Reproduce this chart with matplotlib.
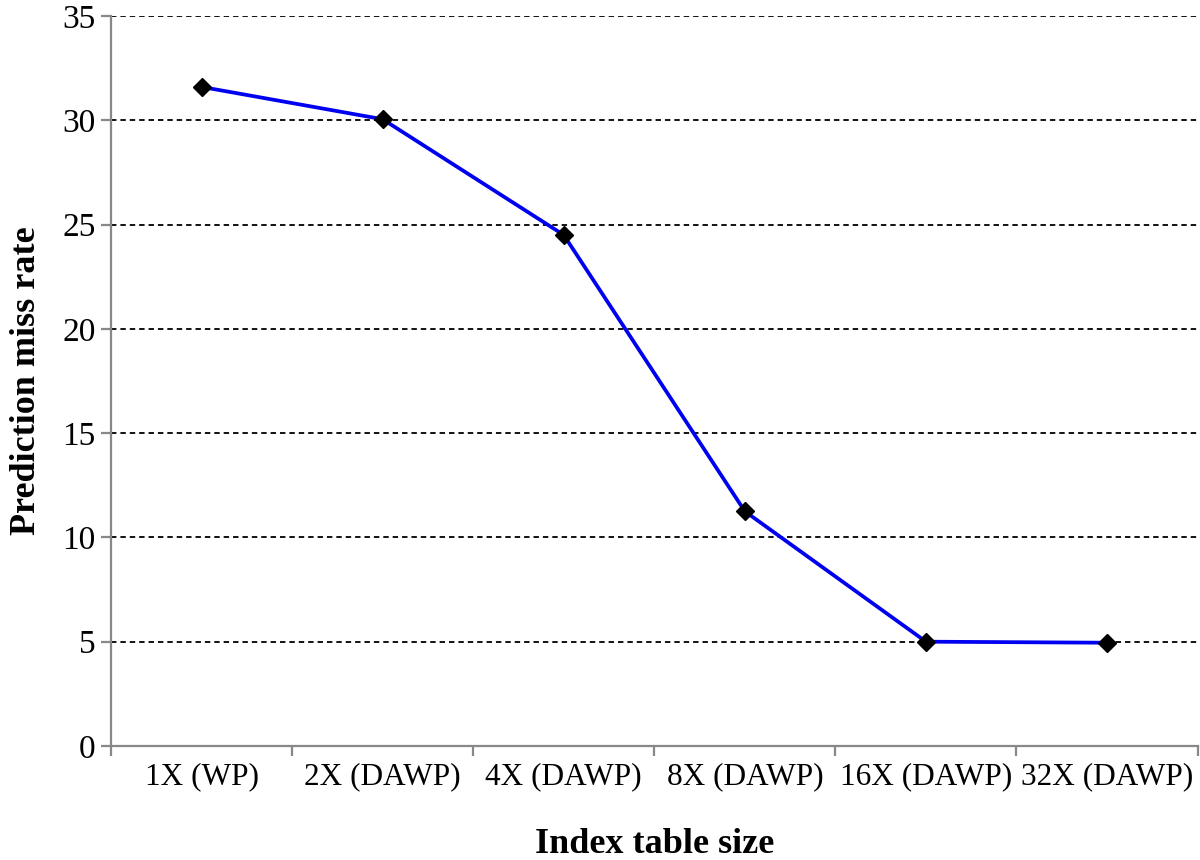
import matplotlib.pyplot as plt
import numpy as np

categories = ['1X (WP)', '2X (DAWP)', '4X (DAWP)', '8X (DAWP)', '16X (DAWP)', '32X (DAWP)']
miss_rate = [31.6, 30.05, 24.5, 11.25, 5.0, 4.95]

plt.rcParams['font.family'] = ['Liberation Serif', 'DejaVu Serif']

fig = plt.figure(figsize=(12, 8.6), dpi=100)
ax = fig.add_axes([0.0925, 0.1326, 0.9055, 0.8488])

x = np.arange(len(categories))
ax.plot(x, miss_rate, color='#0000f0', linewidth=2.7, marker='D', markersize=9,
        markerfacecolor='black', markeredgecolor='black', zorder=3)

ax.set_xlim(-0.5, len(categories) - 0.5)
ax.set_ylim(0, 35)
ax.set_yticks(np.arange(0, 36, 5))
ax.set_xticks(np.arange(-0.5, len(categories), 1))
ax.set_xticklabels([])
ax.set_xticks(x, minor=True)
ax.set_xticklabels(categories, minor=True)

ax.yaxis.grid(True, color='black', linestyle=(0, (3, 2.2)), linewidth=1.3)
ax.set_axisbelow(True)

for s in ['top', 'right']:
    ax.spines[s].set_visible(False)
for s in ['left', 'bottom']:
    ax.spines[s].set_color('#888888')
    ax.spines[s].set_linewidth(1.6)

ax.tick_params(axis='y', which='major', length=7, width=1.6, color='#888888', labelsize=24, pad=4)
ax.tick_params(axis='x', which='major', length=7, width=1.6, color='#888888', direction='out')
ax.tick_params(axis='x', which='minor', length=0, labelsize=22.5, pad=12)

ax.set_xlabel('Index table size', fontsize=26, fontweight='bold', labelpad=26)
ax.set_ylabel('Prediction miss rate', fontsize=26, fontweight='bold', labelpad=14)

fig.savefig('out.png', dpi=100)
